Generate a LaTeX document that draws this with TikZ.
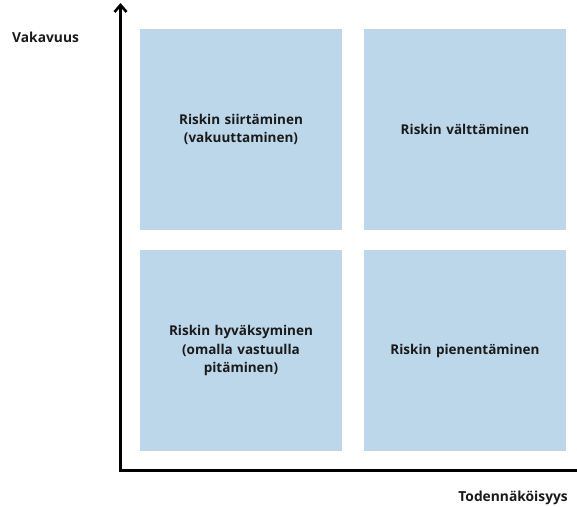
\documentclass[tikz,border=0pt]{standalone}
\usepackage{fontspec}
\setmainfont{Open Sans}
\usetikzlibrary{arrows.meta}
\definecolor{boxblue}{HTML}{BDD7EA}
\definecolor{txt}{HTML}{1A1A1A}
\begin{document}
\begin{tikzpicture}[x=1pt,y=-1pt,
  quad/.style={fill=boxblue,draw=none,minimum width=202pt,minimum height=201pt,inner sep=0pt,
    text width=196pt,align=center,font=\fontsize{13.5}{18.5}\selectfont\bfseries,text=txt},
  axislabel/.style={font=\fontsize{13.8}{16}\selectfont\bfseries,text=txt,inner sep=0pt},
  axis/.style={line width=2.8pt,draw=black,{Straight Barb[length=7pt,width=12pt,line width=2.6pt]}-{Straight Barb[length=7pt,width=12pt,line width=2.6pt]}}]
\useasboundingbox (0,0) rectangle (577,506);
\node[quad] (tl) at (241,129.5) {Riskin siirtäminen\\(vakuuttaminen)};
\node[quad] (tr) at (465,129.5) {Riskin välttäminen};
\node[quad] (bl) at (241,350.5) {Riskin hyväksyminen\\(omalla vastuulla\\pitäminen)};
\node[quad] (br) at (465,350.5) {Riskin pienentäminen};
\coordinate (top) at (120.5,3);
\coordinate (corner) at (120.5,470.5);
\coordinate (right) at (588,470.5);
\draw[axis] (top) -- (corner) -- (right);
\node[axislabel,anchor=west] (vak) at (12,37) {Vakavuus};
\node[axislabel,anchor=east] (tod) at (568,498) {Todennäköisyys};
\end{tikzpicture}
\end{document}
